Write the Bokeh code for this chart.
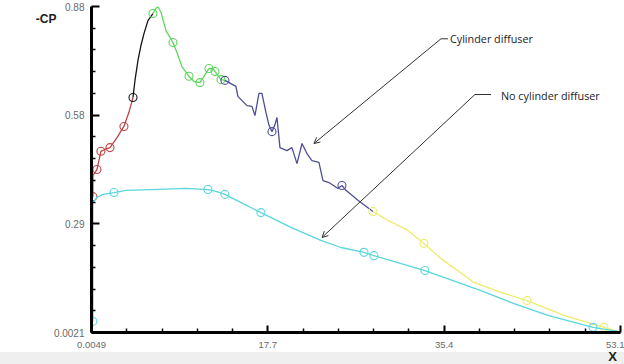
from bokeh.plotting import figure
from bokeh.models import FixedTicker, Label, Arrow, OpenHead, Div, Range1d, LinearAxis
from bokeh.layouts import column
from bokeh.embed import file_html
from bokeh.resources import INLINE

# ---------------- data (x, -CP) ----------------
red_x = [0.15, 0.15, 0.55, 0.95, 1.35, 1.86, 2.56, 3.26, 3.76, 4.17]
red_y = [0.368, 0.425, 0.441, 0.490, 0.495, 0.500, 0.527, 0.557, 0.595, 0.635]
red_mx = [0.15, 0.55, 0.95, 1.86, 3.26]
red_my = [0.368, 0.441, 0.490, 0.500, 0.557]

black_x = [4.17, 4.37, 4.67, 4.97, 5.27, 5.67, 6.17]
black_y = [0.635, 0.681, 0.735, 0.775, 0.807, 0.842, 0.861]
black_mx = [4.17]
black_my = [0.635]

green_x = [6.17, 6.47, 6.67, 6.98, 7.48, 8.18, 8.58, 9.08, 9.79, 10.29, 10.89, 11.29, 11.79, 12.19, 12.40, 13.00, 13.40]
green_y = [0.861, 0.875, 0.880, 0.864, 0.815, 0.783, 0.756, 0.718, 0.692, 0.678, 0.675, 0.692, 0.713, 0.713, 0.705, 0.683, 0.681]
green_mx = [6.17, 8.18, 9.79, 10.89, 11.79, 12.40, 13.00]
green_my = [0.861, 0.783, 0.692, 0.675, 0.713, 0.705, 0.683]

navy_x = [13.40, 14.50, 14.70, 15.61, 16.11, 16.41, 16.81, 17.11, 17.51, 17.82, 18.12, 18.42, 18.62, 18.92, 19.62,
          20.12, 20.63, 21.13, 21.63, 22.13, 22.83, 23.24, 23.84, 24.74, 25.14, 25.54, 26.75, 28.25]
navy_y = [0.681, 0.665, 0.638, 0.613, 0.611, 0.586, 0.646, 0.646, 0.595, 0.560, 0.543, 0.562, 0.581, 0.500, 0.492,
          0.500, 0.457, 0.511, 0.484, 0.465, 0.460, 0.411, 0.406, 0.390, 0.398, 0.385, 0.358, 0.328]
navy_mx = [13.40, 18.12, 25.14]
navy_my = [0.681, 0.543, 0.398]

yellow_x = [28.25, 29.76, 31.77, 33.37, 35.08, 38.39, 41.10, 43.71, 47.43, 51.44, 53.05]
yellow_y = [0.328, 0.304, 0.277, 0.242, 0.201, 0.137, 0.110, 0.088, 0.048, 0.016, 0.003]
yellow_mx = [28.25, 33.37, 43.71, 51.44]
yellow_my = [0.328, 0.242, 0.088, 0.016]

cyan_x = [0.15, 0.15, 0.55, 1.15, 2.26, 3.46, 5.97, 9.48, 11.69, 12.50, 13.40, 15.21, 17.01, 20.02, 23.03, 25.04,
          27.35, 28.35, 33.47, 39.09, 42.41, 45.82, 50.34, 52.85]
cyan_y = [0.032, 0.352, 0.366, 0.374, 0.379, 0.385, 0.387, 0.390, 0.387, 0.382, 0.374, 0.349, 0.325, 0.285, 0.250, 0.231,
          0.218, 0.209, 0.169, 0.115, 0.080, 0.048, 0.016, 0.005]
cyan_mx = [0.15, 2.26, 11.69, 13.40, 17.01, 27.35, 28.35, 33.47, 50.34]
cyan_my = [0.032, 0.379, 0.387, 0.374, 0.325, 0.218, 0.209, 0.169, 0.016]

x_tick_values = [0.0049, 17.7, 35.4, 53.1]
x_tick_labels = ["0.0049", "17.7", "35.4", "53.1"]
y_tick_values = [0.0021, 0.2947, 0.5874, 0.88]
y_tick_labels = ["0.0021", "0.29", "0.58", "0.88"]
y_title = "-CP"
y_title_at = 0.847
x_title = "X"

# annotations: label text, leader elbow, horizontal end, arrow tip
ann_text = ["Cylinder diffuser", "No cylinder diffuser"]
ann_text_x = [35.98, 41.10]
ann_text_y = [0.793, 0.640]
ann_elbow_x = [35.08, 38.49]
ann_elbow_y = [0.793, 0.643]
ann_hend_x = [35.78, 40.10]
ann_tip_x = [22.33, 23.14]
ann_tip_y = [0.511, 0.258]

# ---------------- figure ----------------
p = figure(width=624, height=352, output_backend="svg", toolbar_location=None,
           x_range=Range1d(0.0049, 53.1), y_range=Range1d(0.0021, 0.88),
           min_border_left=91, min_border_right=4, min_border_top=6, min_border_bottom=20)
p.outline_line_color = None
p.xgrid.visible = False
p.ygrid.visible = False
p.background_fill_color = "white"
p.border_fill_color = "white"

def minor(vals, n=5):
    out = []
    for a, b in zip(vals[:-1], vals[1:]):
        for k in range(1, n):
            out.append(a + (b - a) * k / n)
    return out

for ax, tv, tl, tin in ((p.xaxis[0], x_tick_values, x_tick_labels, 7),
                        (p.yaxis[0], y_tick_values, y_tick_labels, 8)):
    ax.ticker = FixedTicker(ticks=tv, minor_ticks=minor(tv))
    ax.major_label_overrides = {v: s for v, s in zip(tv, tl)}
    ax.axis_line_width = 3
    ax.axis_line_color = "black"
    ax.major_tick_in = tin
    ax.major_tick_out = 0
    ax.major_tick_line_width = 2
    ax.major_tick_line_color = "black"
    ax.minor_tick_in = 4
    ax.minor_tick_out = 0
    ax.minor_tick_line_width = 1.5
    ax.minor_tick_line_color = "black"
    ax.major_label_text_font = "Liberation Sans"
    ax.major_label_text_font_size = "10px"
    ax.major_label_text_color = "#6a6a6a"
p.xaxis.major_label_text_font_size = "9.5px"
p.xaxis.major_label_standoff = 9
p.yaxis.major_label_standoff = 7

# outer left axis carrying the "-CP" title near the top
cp_axis = LinearAxis(ticker=FixedTicker(ticks=[y_title_at], minor_ticks=[]),
                     major_label_overrides={y_title_at: y_title},
                     axis_line_color=None, major_tick_line_color=None, minor_tick_line_color=None,
                     major_label_standoff=-12, major_label_text_font="Liberation Sans",
                     major_label_text_font_size="12px", major_label_text_font_style="bold",
                     major_label_text_color="#222222")
p.add_layout(cp_axis, "left")

series = [
    (red_x, red_y, red_mx, red_my, "#c04444"),
    (black_x, black_y, black_mx, black_my, "#151515"),
    (green_x, green_y, green_mx, green_my, "#5cd65c"),
    (navy_x, navy_y, navy_mx, navy_my, "#4e4e98"),
    (yellow_x, yellow_y, yellow_mx, yellow_my, "#ecec6e"),
    (cyan_x, cyan_y, cyan_mx, cyan_my, "#5ad6de"),
]
for xs, ys, mxs, mys, c in series:
    p.line(xs, ys, line_color=c, line_width=1.3)
    p.scatter(mxs, mys, marker="circle", size=8, fill_color=None, line_color=c, line_width=1.1)

# leaders and arrows
p.segment(ann_elbow_x, ann_elbow_y, ann_hend_x, ann_elbow_y, line_color="#333333", line_width=1)
for i in range(len(ann_text)):
    p.add_layout(Arrow(end=OpenHead(size=6, line_color="#333333", line_width=1),
                       x_start=ann_elbow_x[i], y_start=ann_elbow_y[i],
                       x_end=ann_tip_x[i], y_end=ann_tip_y[i],
                       line_color="#333333", line_width=1))
    p.add_layout(Label(x=ann_text_x[i], y=ann_text_y[i], text=ann_text[i],
                       text_font="Open Sans", text_font_size="10.8px", text_color="#222222",
                       text_baseline="middle", text_align="left"))

band = Div(text=x_title, width=624, height=12, margin=0,
           styles={"background-color": "#efefef", "text-align": "right",
                   "font-weight": "bold", "font-size": "13px", "line-height": "10px",
                   "font-family": "Liberation Sans", "color": "#222222",
                   "padding-right": "7px", "box-sizing": "border-box"})

layout = column(p, band, spacing=0)
open("out.html", "w").write(file_html(layout, INLINE))
